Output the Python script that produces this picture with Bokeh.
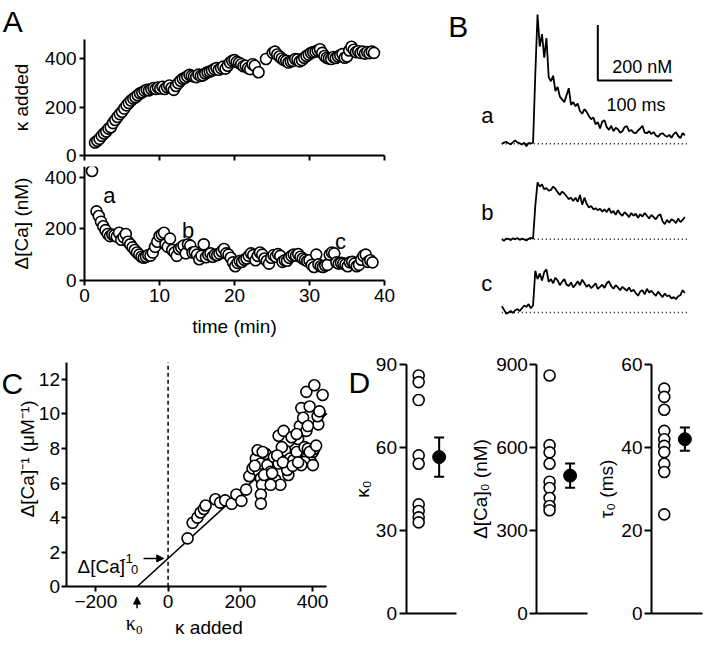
import math
from bokeh.plotting import figure
from bokeh.models import Range1d, Label, Arrow, NormalHead, Whisker, TeeHead, ColumnDataSource, FixedTicker
from bokeh.layouts import column, row
from bokeh.embed import file_html
from bokeh.resources import INLINE

FONT = "Liberation Sans"
SERIF = "Liberation Serif"

# ---------------- data ----------------
# Panel A (top): kappa added vs time
kappa_time = [1.4, 1.7, 2.0, 2.3, 2.6, 2.9, 3.2, 3.5, 3.8, 4.1,
              4.4, 4.7, 5.0, 5.3, 5.6, 5.9, 6.2, 6.5, 6.8, 7.1,
              7.4, 7.7, 8.0, 8.3, 8.6, 8.9, 9.2, 9.5, 9.8, 10.1,
              10.4, 10.7, 11.0, 11.3, 11.6, 11.9, 12.2, 12.5, 12.8, 13.1,
              13.4, 13.7, 14.0, 14.3, 14.6, 14.9, 15.2, 15.5, 15.8, 16.1,
              16.4, 16.7, 17.0, 17.3, 17.6, 17.9, 18.2, 18.5, 18.8, 19.1,
              19.4, 19.7, 20.0, 20.3, 20.6, 20.9, 21.2, 21.5, 21.8, 22.1,
              22.4, 22.7, 23.2, 24.2, 25.1, 25.4, 25.7, 26.0, 26.3, 26.6,
              26.9, 27.2, 27.5, 27.8, 28.1, 28.4, 28.7, 29.0, 29.3, 29.6,
              29.9, 30.2, 30.5, 30.8, 31.1, 31.4, 31.7, 32.0, 32.3, 32.6,
              32.9, 33.2, 33.5, 33.8, 34.1, 34.4, 34.7, 35.0, 35.3, 35.6,
              35.9, 36.2, 36.5, 36.8, 37.1, 37.4, 37.7, 38.0, 38.3, 38.6]
kappa_added = [55, 62, 70, 82, 92, 100, 112, 118, 135, 148,
               160, 172, 182, 195, 208, 218, 228, 236, 242, 250,
               258, 262, 268, 272, 270, 276, 280, 276, 282, 278,
               285, 276, 284, 290, 280, 272, 288, 300, 310, 318,
               322, 328, 334, 330, 328, 325, 335, 330, 332, 340,
               345, 348, 352, 358, 362, 355, 362, 368, 360, 372,
               385, 392, 395, 388, 384, 378, 370, 372, 362, 358,
               378, 372, 345, 400, 425, 430, 418, 410, 402, 395,
               392, 385, 390, 392, 400, 398, 390, 395, 405, 412,
               418, 425, 428, 430, 435, 440, 425, 412, 405, 402,
               400, 408, 404, 410, 415, 420, 405, 410, 435, 450,
               438, 428, 432, 425, 430, 422, 428, 424, 430, 425]

# Panel A (bottom): delta[Ca] (nM) vs time
dca_time = [1.0, 1.6, 1.9, 2.2, 2.5, 2.8, 3.1, 3.4, 3.7, 4.0,
            4.3, 4.6, 4.9, 5.2, 5.5, 5.8, 6.1, 6.4, 6.7, 7.0,
            7.3, 7.6, 7.9, 8.2, 8.5, 8.8, 9.1, 9.4, 9.7, 10.0,
            10.3, 10.6, 10.8, 11.1, 11.4, 11.7, 12.0, 12.3, 12.6, 12.9,
            13.2, 13.5, 13.8, 14.1, 14.4, 14.7, 15.0, 15.3, 15.6, 15.9,
            16.2, 16.5, 16.8, 17.1, 17.4, 17.7, 18.0, 18.3, 18.6, 18.9,
            19.2, 19.5, 19.8, 20.1, 20.4, 20.7, 21.0, 21.3, 21.6, 21.9,
            22.2, 22.5, 22.8, 23.1, 23.4, 23.7, 24.0, 24.3, 24.6, 24.9,
            25.2, 25.5, 25.8, 26.1, 26.4, 26.7, 27.0, 27.3, 27.6, 27.9,
            28.2, 28.5, 28.8, 29.1, 29.4, 29.7, 30.0, 30.3, 30.6, 30.9,
            31.2, 31.5, 31.8, 32.1, 32.4, 32.7, 33.0, 33.3, 33.6, 33.9,
            34.2, 34.5, 34.8, 35.1, 35.4, 35.7, 36.0, 36.3, 36.6, 36.9,
            37.2, 37.5, 37.8, 38.1, 38.4]
dca_nM = [425, 268, 250, 228, 210, 195, 180, 172, 178, 175,
          170, 185, 158, 168, 180, 150, 140, 128, 118, 108,
          100, 92, 88, 92, 98, 96, 108, 130, 150, 172,
          178, 185, 140, 130, 162, 118, 108, 95, 122, 128,
          135, 105, 140, 135, 108, 110, 100, 82, 95, 140,
          90, 100, 105, 92, 100, 98, 104, 112, 122, 105,
          100, 88, 70, 55, 68, 75, 72, 80, 85, 95,
          105, 98, 78, 95, 108, 100, 85, 75, 65, 88,
          98, 92, 102, 95, 72, 78, 76, 88, 95, 100,
          96, 102, 92, 85, 80, 75, 78, 60, 52, 100,
          62, 55, 52, 58, 60, 100, 108, 105, 70, 65,
          68, 66, 62, 55, 70, 72, 65, 55, 60, 80,
          95, 100, 72, 78, 70]
a_labels = ["a", "b", "c"]
a_label_time = [2.5, 13.0, 33.4]
a_label_dca = [331, 192, 152]

# Panel B: example transients (nM), sampled every 3 ms
trace_dt = 3
trace_a = [0, 4, 7, 2, -2, 6, 12, 5, 2, -3,
           4, -9, 3, 1, 4, 250, 465, 350, 395, 310,
           380, 240, 225, 245, 190, 205, 170, 160, 150, 175,
           200, 140, 150, 135, 145, 118, 108, 125, 115, 100,
           88, 95, 70, 78, 55, 80, 85, 60, 50, 65,
           45, 58, 52, 40, 45, 60, 64, 45, 50, 40,
           38, 48, 55, 65, 40, 38, 45, 35, 42, 30,
           25, 35, 38, 30, 25, 32, 22, 35, 42, 28,
           20, 38, 30]
trace_b = [0, -5, 3, 2, -3, 4, 0, 5, -2, 3,
           0, -4, 2, 5, 3, 120, 205, 190, 198, 180,
           185, 175, 178, 190, 182, 170, 160, 172, 165, 155,
           145, 150, 138, 150, 135, 160, 125, 150, 128, 115,
           120, 108, 112, 105, 110, 100, 108, 98, 112, 95,
           102, 88, 105, 92, 85, 98, 90, 80, 95, 85,
           92, 78, 90, 82, 95, 85, 75, 88, 80, 72,
           85, 90, 65, 55, 70, 60, 72, 68, 58, 75,
           62, 70, 80]
trace_c = [22, 10, -5, 0, 5, -2, 8, 12, 5, 15,
           25, 20, 30, 15, 25, 150, 120, 140, 115, 145,
           155, 110, 120, 105, 125, 115, 98, 110, 120, 100,
           95, 108, 90, 100, 112, 98, 118, 105, 92, 100,
           88, 95, 105, 85, 92, 100, 88, 105, 112, 95,
           85, 98, 90, 80, 92, 85, 78, 90, 75, 82,
           70, 60, 75, 80, 65, 85, 72, 78, 68, 60,
           75, 65, 55, 68, 58, 62, 50, 55, 48, 58,
           62, 80, 70]
scale_nM = 200
scale_ms = 100

# Panel C: 1/delta[Ca] (uM^-1) vs kappa added
c_kappa = [54, 68, 81, 90, 99, 104, 131, 144, 158, 176,
           189, 203, 216, 225, 234, 243, 248, 252, 257, 257,
           260, 257, 257, 270, 275, 284, 293, 297, 306, 311,
           306, 320, 324, 333, 338, 347, 356, 360, 365, 369,
           374, 383, 378, 383, 387, 392, 383, 405, 428, 419,
           416, 396, 401, 405, 378, 315, 284, 266, 288, 302,
           342, 356, 369, 392, 401, 410, 414, 419, 387, 330,
           262, 240, 318, 345, 360]
c_inv = [2.8, 3.7, 4.0, 4.3, 4.5, 4.7, 5.06, 4.87, 5.0, 4.8,
         5.34, 4.97, 5.62, 6.4, 6.85, 7.42, 7.9, 6.66, 7.13, 6.28,
         5.9, 5.34, 4.81, 7.7, 7.04, 6.66, 7.51, 6.19, 7.13, 5.9,
         8.74, 9.02, 7.89, 6.47, 7.42, 7.32, 7.8, 8.55, 9.3, 10.34,
         9.78, 9.02, 8.08, 7.42, 7.99, 10.43, 11.28, 11.66, 11.1, 10.06,
         9.4, 7.23, 7.8, 7.99, 7.23, 8.08, 5.9, 6.47, 6.57, 7.6,
         8.65, 8.84, 7.04, 7.8, 7.04, 8.17, 9.87, 10.15, 9.3, 6.76,
         7.8, 7.0, 7.2, 7.0, 7.2]
fit_kappa = [-86, 440]
fit_inv = [0.0, 10.03]
kappa0_est = -86
inv0_est = 1.64

# Panel D: summary values (individual cells, mean +/- SEM)
d_kappa0 = [85.9, 83.5, 77, 57, 54, 39.3, 36.9, 34.6, 32.8]
d_kappa0_mean, d_kappa0_sem = 56.4, 7.1
d_dca0 = [859, 607, 581, 540, 475, 452, 416, 387, 372]
d_dca0_mean, d_dca0_sem = 497, 44
d_tau0 = [54.1, 52.1, 49, 43.9, 41.9, 40.3, 38.8, 36, 34, 23.8]
d_tau0_mean, d_tau0_sem = 41.9, 2.8

# ---------------- layout helpers ----------------
SX = 704 / 720
SY = 638 / 654


def X(v):
    return int(round(v * SX))


def Y(v):
    return int(round(v * SY))


def mkfig(x0, x1, y0, y1, fx0, fx1, fy0, fy1, xr, yr, axes=True):
    """Figure whose frame fills the whole canvas; the axes sit at fixed
    locations so that the data box (fx0..fx1, fy0..fy1) matches the layout."""
    kx = (xr[1] - xr[0]) / (fx1 - fx0)
    ky = (yr[1] - yr[0]) / (fy1 - fy0)
    xlo = xr[0] - (fx0 - x0) * kx
    xhi = xr[1] + (x1 - fx1) * kx
    ylo = yr[0] - (y1 - fy1) * ky
    yhi = yr[1] + (fy0 - y0) * ky
    kw = {}
    if not axes:
        kw = dict(x_axis_type=None, y_axis_type=None)
    p = figure(width=X(x1) - X(x0), height=Y(y1) - Y(y0), min_border=0,
               x_range=Range1d(xlo, xhi), y_range=Range1d(ylo, yhi),
               output_backend="svg", toolbar_location=None, title=None, **kw)
    p.outline_line_color = None
    p.grid.visible = False
    p.background_fill_color = "white"
    p.border_fill_color = "white"
    if axes:
        p.xaxis[0].fixed_location = yr[0]
        p.xaxis[0].bounds = xr
        p.yaxis[0].fixed_location = xr[0]
        p.yaxis[0].bounds = yr
    return p


def style_axis(ax, ticks, tick_out=5, lab_standoff=3, axlab_standoff=5, fs="19px"):
    ax.ticker = FixedTicker(ticks=ticks)
    ax.axis_line_width = 2
    ax.axis_line_color = "black"
    ax.major_tick_line_width = 2
    ax.major_tick_line_color = "black"
    ax.major_tick_in = 0
    ax.major_tick_out = tick_out
    ax.minor_tick_line_color = None
    ax.major_label_text_font = FONT
    ax.major_label_text_font_size = fs
    ax.major_label_text_color = "black"
    ax.major_label_standoff = lab_standoff
    ax.axis_label_text_font = FONT
    ax.axis_label_text_font_size = "19px"
    ax.axis_label_text_font_style = "normal"
    ax.axis_label_text_color = "black"
    ax.axis_label_standoff = axlab_standoff


def lab(p, x, y, text, size="19px", font=FONT, align="left", baseline="alphabetic", angle=0):
    p.add_layout(Label(x=x, y=y, text=text, text_font=font, text_font_size=size,
                       text_align=align, text_baseline=baseline, text_color="black",
                       angle=angle))


def open_circles(p, x, y, size=11):
    p.scatter(x, y, marker="circle", size=size, fill_color="white",
              line_color="black", line_width=1.6)


# ---------------- Panel A top ----------------
pa1 = mkfig(0, 480, 0, 170, 86, 393, 40, 159, (0, 40), (0, 480))
style_axis(pa1.xaxis[0], [0, 10, 20, 30, 40], lab_standoff=0)
pa1.xaxis[0].major_label_text_color = None
style_axis(pa1.yaxis[0], [0, 200, 400], axlab_standoff=10)
pa1.yaxis[0].axis_label = "κ added"
open_circles(pa1, kappa_time, kappa_added)
lab(pa1, -10.9, 553, "A", size="30px")
lab(pa1, 48.5, 533, "B", size="30px")

# ---------------- Panel A bottom ----------------
pa2 = mkfig(0, 480, 170, 356, 86, 393, 168, 287, (0, 40), (0, 450))
style_axis(pa2.xaxis[0], [0, 10, 20, 30, 40], lab_standoff=4, axlab_standoff=10)
pa2.xaxis[0].axis_label = "time (min)"
style_axis(pa2.yaxis[0], [0, 200, 400], axlab_standoff=10)
pa2.yaxis[0].axis_label = "Δ[Ca] (nM)"
open_circles(pa2, dca_time, dca_nM)
for t_, x_, y_ in zip(a_labels, a_label_time, a_label_dca):
    lab(pa2, x_, y_, t_, size="22px")

# ---------------- Panel B ----------------
pb = mkfig(480, 720, 0, 356, 480, 720, 0, 356, (-43.42, 272.37), (-733.3, 515.8), axes=False)
offsets = [0, -344, -607]
traces = [trace_a, trace_b, trace_c]
for tr, off in zip(traces, offsets):
    tt = [i * trace_dt for i in range(len(tr))]
    pb.line([0, tt[-1] + 3], [off, off], line_color="black", line_width=1.5, line_dash="1 3")
    pb.line(tt, [v + off for v in tr], line_color="black", line_width=1.8)
bar_x, bar_y = 129, 228
pb.line([bar_x, bar_x, bar_x + scale_ms], [bar_y + scale_nM, bar_y, bar_y],
        line_color="black", line_width=2)
lab(pb, bar_x + scale_ms, 277, "200 nM", size="18px", align="right")
lab(pb, bar_x + scale_ms - 9, 140, "100 ms", size="18px", align="right")
lab(pb, -27.5, 102, "a", size="22px")
lab(pb, -27.5, -249, "b", size="22px")
lab(pb, -27.5, -502, "c", size="22px")

# ---------------- Panel C ----------------
pc = mkfig(0, 355, 356, 654, 68, 334, 371, 601, (-280, 440), (0, 13))
style_axis(pc.xaxis[0], [-200, 0, 200, 400], lab_standoff=3, axlab_standoff=0)
style_axis(pc.yaxis[0], [0, 2, 4, 6, 8, 10, 12], lab_standoff=2, axlab_standoff=-4)
pc.line([0, 0], [0, 13], line_color="black", line_width=1.5, line_dash="4 3")
pc.line(fit_kappa, fit_inv, line_color="black", line_width=1.6)
open_circles(pc, c_kappa, c_inv)
pc.add_layout(Arrow(end=NormalHead(size=7, fill_color="black", line_color="black"),
                    x_start=-68, y_start=inv0_est, x_end=-12, y_end=inv0_est,
                    line_color="black", line_width=1.5))
pc.add_layout(Arrow(end=NormalHead(size=7, fill_color="black", line_color="black"),
                    x_start=kappa0_est, y_start=-1.25, x_end=kappa0_est, y_end=-0.6,
                    line_color="black", line_width=1.5))
lab(pc, 113, -2.38, "κ added", size="19px", align="center")
lab(pc, -389, 7.4, "Δ[Ca]⁻¹ (μM⁻¹)", size="19px", align="center", baseline="middle",
    angle=math.pi / 2)
lab(pc, -251, 1.19, "Δ[Ca]", size="19px")
lab(pc, -130, 1.66, "-1", size="13px")
lab(pc, -103, 0.98, "0", size="13px")
lab(pc, -89, -2.1, "κ", size="20px", font=SERIF, align="right")
lab(pc, -89, -2.48, "0", size="13px", font=SERIF, align="left")
lab(pc, -461, 11.77, "C", size="30px")

# ---------------- Panel D ----------------
def dpanel(x0, x1, fx0, fx1, yr, ticks, vals, mean, sem, ylabel, standoff):
    p = mkfig(x0, x1, 356, 654, fx0, fx1, 373, 628, (0.381, 2.857), yr)
    style_axis(p.xaxis[0], [])
    p.xaxis[0].major_label_text_color = None
    p.xaxis[0].major_tick_out = 0
    p.xaxis[0].major_label_standoff = 0
    style_axis(p.yaxis[0], ticks, tick_out=7, lab_standoff=2, axlab_standoff=standoff)
    p.yaxis[0].axis_label = ylabel
    open_circles(p, [1] * len(vals), vals, size=11)
    src = ColumnDataSource(dict(x=[2], upper=[mean + sem], lower=[mean - sem]))
    p.add_layout(Whisker(source=src, base="x", upper="upper", lower="lower",
                         line_color="black", line_width=2,
                         upper_head=TeeHead(size=10, line_width=2, line_color="black"),
                         lower_head=TeeHead(size=10, line_width=2, line_color="black")))
    p.scatter([2], [mean], marker="circle", size=13, fill_color="black",
              line_color="black")
    return p


pd1 = dpanel(355, 475, 415, 467, (0, 90), [0, 30, 60, 90], d_kappa0,
             d_kappa0_mean, d_kappa0_sem, "κ₀", 0)
lab(pd1, -2.43, 83.3, "D", size="30px")
pd2 = dpanel(475, 610, 549, 601, (0, 900), [0, 300, 600, 900], d_dca0,
             d_dca0_mean, d_dca0_sem, "Δ[Ca]₀ (nM)", 2)
pd3 = dpanel(610, 720, 666, 718, (0, 60), [0, 20, 40, 60], d_tau0,
             d_tau0_mean, d_tau0_sem, "τ₀ (ms)", 1)

root = column(row(column(pa1, pa2), pb), row(pc, pd1, pd2, pd3))

with open("out.html", "w") as f:
    f.write(file_html(root, INLINE))
